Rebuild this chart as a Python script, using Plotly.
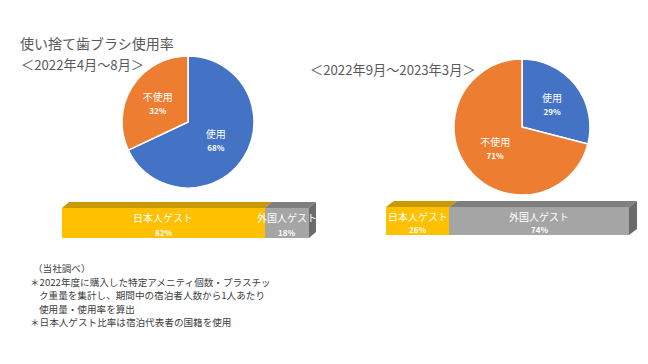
import plotly.graph_objects as go

# ---- data ----
pie_labels = ["使用", "不使用"]
pie1_values = [68, 32]   # 2022年4月～8月
pie2_values = [29, 71]   # 2022年9月～2023年3月
bar_labels = ["日本人ゲスト", "外国人ゲスト"]
bar1_values = [82, 18]
bar2_values = [26, 74]

title_text = "使い捨て歯ブラシ使用率"
sub1_text = "＜2022年4月～8月＞"
sub2_text = "＜2022年9月～2023年3月＞"
notes = [
    "（当社調べ）",
    "＊2022年度に購入した特定アメニティ個数・プラスチッ",
    "ク重量を集計し、期間中の宿泊者人数から1人あたり",
    "使用量・使用率を算出",
    "＊日本人ゲスト比率は宿泊代表者の国籍を使用",
]

W, H = 648, 364
FONT = "Noto Sans CJK JP"
pie_colors = ["#4472C4", "#ED7D31"]
front_colors = ["#FFC000", "#A5A5A5"]
top_colors = ["#C99A00", "#7F7F7F"]
side_color = "#6B6B6B"


def px_x(p):
    return p / W


def px_y(p):
    return 1 - p / H


fig = go.Figure()

# ---- pies ----
def add_pie(values, cx, cy, r):
    fig.add_trace(go.Pie(
        labels=pie_labels, values=values, sort=False, direction="clockwise",
        rotation=0,
        marker=dict(colors=pie_colors, line=dict(color="white", width=1.5)),
        texttemplate="%{label}<br><span style='font-size:8px'><b>%{value}%</b></span>",
        textposition="inside", insidetextorientation="horizontal",
        textfont=dict(color="white", size=10, family=FONT),
        hoverinfo="skip", showlegend=False,
        domain=dict(x=[px_x(cx - r), px_x(cx + r)], y=[px_y(cy + r), px_y(cy - r)]),
    ))


add_pie(pie1_values, 188, 122, 66)
add_pie(pie2_values, 522, 127, 68)

# ---- 3D-style stacked bars ----
annotations = []
shapes = []


def add_bar(values, idx, left, front_right, depth_px, top_px, front_top_px, bottom_px):
    xa = "x" if idx == 1 else f"x{idx}"
    ya = "y" if idx == 1 else f"y{idx}"
    total = sum(values)
    front_w = front_right - left
    dx = depth_px / front_w * total
    h = (bottom_px - front_top_px) / (bottom_px - top_px)
    axis_x = dict(domain=[px_x(left), px_x(front_right + depth_px)], range=[0, total + dx],
                  visible=False, fixedrange=True)
    axis_y = dict(domain=[px_y(bottom_px), px_y(top_px)], range=[0, 1],
                  visible=False, fixedrange=True)
    fig.update_layout(**{("xaxis" if idx == 1 else f"xaxis{idx}"): axis_x,
                         ("yaxis" if idx == 1 else f"yaxis{idx}"): axis_y})
    start = 0
    for i, v in enumerate(values):
        fig.add_trace(go.Bar(
            orientation="h", x=[v], base=[start], y=[h / 2], width=h,
            marker=dict(color=front_colors[i], line=dict(width=0)),
            hoverinfo="skip", showlegend=False, xaxis=xa, yaxis=ya,
        ))
        shapes.append(dict(
            type="path", xref=xa, yref=ya, layer="above", line=dict(width=0),
            fillcolor=top_colors[i],
            path=f"M {start},{h} L {start+v},{h} L {start+v+dx},1 L {start+dx},1 Z",
        ))
        mid = start + v / 2
        annotations.append(dict(
            x=mid, y=h * 0.67, xref=xa, yref=ya, text=bar_labels[i], showarrow=False,
            font=dict(family=FONT, size=10, color="white"), xanchor="center", yanchor="middle",
        ))
        annotations.append(dict(
            x=mid, y=h * 0.2, xref=xa, yref=ya, text=f"<b>{v}%</b>", showarrow=False,
            font=dict(family=FONT, size=8, color="white"), xanchor="center", yanchor="middle",
        ))
        start += v
    shapes.append(dict(
        type="path", xref=xa, yref=ya, layer="above", line=dict(width=0),
        fillcolor=side_color,
        path=f"M {total},0 L {total+dx},{1-h} L {total+dx},1 L {total},{h} Z",
    ))


add_bar(bar1_values, 1, 62, 309, 7, 202, 208, 238)
add_bar(bar2_values, 2, 386, 629, 8, 201, 207, 235)

# ---- texts ----
annotations.append(dict(x=px_x(18), y=px_y(43), xref="paper", yref="paper", text=title_text,
                        showarrow=False, xanchor="left", yanchor="middle",
                        font=dict(family=FONT, size=14, color="#595959")))
annotations.append(dict(x=px_x(19), y=px_y(64), xref="paper", yref="paper", text=sub1_text,
                        showarrow=False, xanchor="left", yanchor="middle",
                        font=dict(family=FONT, size=13.2, color="#595959")))
annotations.append(dict(x=px_x(308), y=px_y(69), xref="paper", yref="paper", text=sub2_text,
                        showarrow=False, xanchor="left", yanchor="middle",
                        font=dict(family=FONT, size=13.2, color="#595959")))

note_x = [31, 28, 37, 37, 28]
note_y = [268, 281.5, 295, 308.5, 322]
for t, nx, ny in zip(notes, note_x, note_y):
    annotations.append(dict(x=px_x(nx), y=px_y(ny), xref="paper", yref="paper", text=t,
                            showarrow=False, xanchor="left", yanchor="middle",
                            font=dict(family=FONT, size=9.6, color="#404040")))

fig.update_layout(
    width=W, height=H, margin=dict(l=0, r=0, t=0, b=0),
    paper_bgcolor="white", plot_bgcolor="white",
    barmode="overlay", bargap=0,
    shapes=shapes, annotations=annotations,
    font=dict(family=FONT),
)

fig.write_html("out.html", config={"displayModeBar": False},
               post_script="document.body.style.margin='0px';")
